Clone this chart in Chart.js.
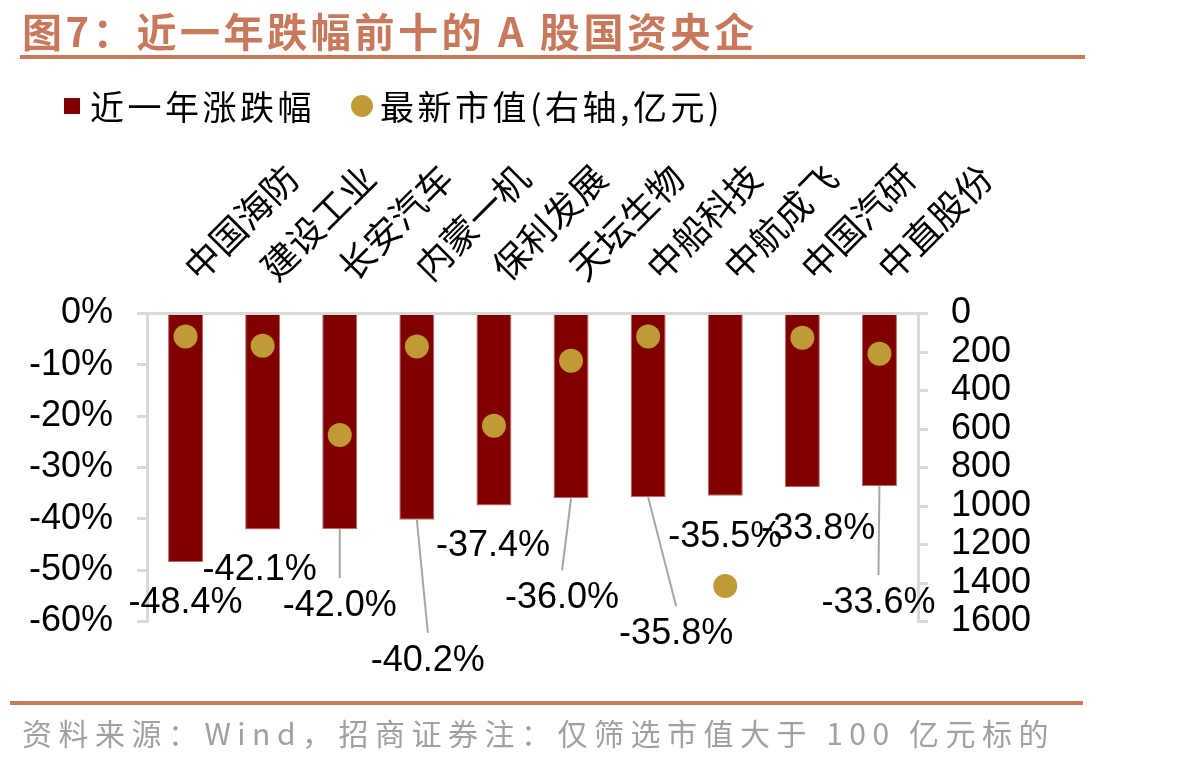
<!DOCTYPE html>
<html>
<head>
<meta charset="utf-8">
<script src="https://cdn.jsdelivr.net/npm/chart.js@4.4.1/dist/chart.umd.min.js"></script>
<style>
  html, body { margin: 0; padding: 0; background: #ffffff; }
  #wrap { position: relative; width: 1198px; height: 763px; overflow: hidden; font-family: "Noto Sans CJK SC", sans-serif; }
  #chart { position: absolute; left: 0; top: 0; }
  .title { position: absolute; left: 22px; top: 6px; font-size: 40px; line-height: 48px; font-weight: bold; color: #C8795B; letter-spacing: 3.6px; white-space: nowrap; }
  .rule { position: absolute; left: 20px; width: 1065px; height: 4px; background: #C8795B; }
  .legend { position: absolute; top: 84px; height: 44px; line-height: 44px; font-size: 34px; letter-spacing: 3.5px; color: #000; white-space: nowrap; }
  .sq { position: absolute; left: 64px; top: 98px; width: 16px; height: 16px; background: #800000; }
  .dot { position: absolute; left: 351px; top: 95px; width: 22px; height: 22px; border-radius: 50%; background: #C09A35; }
  .footer { position: absolute; left: 22px; top: 712px; font-size: 30px; line-height: 40px; color: #A0A0A0; letter-spacing: 6.5px; white-space: nowrap; }
</style>
</head>
<body>
<div id="wrap">
  <canvas id="chart" width="1198" height="763"></canvas>
  <div class="title">图7：近一年跌幅前十的 A 股国资央企</div>
  <div class="rule" style="top:55px"></div>
  <div class="sq"></div>
  <div class="legend" style="left:90px">近一年涨跌幅</div>
  <div class="dot"></div>
  <div class="legend" style="left:380px">最新市值(右轴,亿元)</div>
  <div class="rule" style="top:701px;left:10px;width:1073px"></div>
  <div class="footer">资料来源：Wind，招商证券注：仅筛选市值大于 100 亿元标的</div>
</div>
<script>
// ---- data ----
const companies = ["中国海防", "建设工业", "长安汽车", "内蒙一机", "保利发展", "天坛生物", "中船科技", "中航成飞", "中国汽研", "中直股份"];
const yearChange = [-48.4, -42.1, -42.0, -40.2, -37.4, -36.0, -35.8, -35.5, -33.8, -33.6]; // %
const marketCap = [120, 167, 631, 172, 583, 245, 120, 1416, 126, 209]; // 亿元
const leftTicks = { min: -60, max: 0, step: 10 };
const rightTicks = { min: 0, max: 1600, step: 200 };

// label placement (style only): offset from bar end, and whether a leader line is drawn
const labelOffsets = [[0, 41], [-3, 40], [0, 77], [11, 141], [-1, 41], [-9, 100], [28, 137], [0, 41], [16, 42], [-1, 117]];
const hasLeader = [false, false, true, true, false, true, true, false, false, true];

const labelPlugin = {
  id: 'barLabels',
  afterDatasetsDraw(chart) {
    const ctx = chart.ctx;
    const meta = chart.getDatasetMeta(0);
    ctx.save();
    meta.data.forEach((bar, i) => {
      const [dx, dy] = labelOffsets[i];
      const lx = bar.x + dx, ly = bar.y + dy;
      if (hasLeader[i]) {
        ctx.strokeStyle = '#A6A6A6';
        ctx.lineWidth = 2;
        ctx.beginPath();
        ctx.moveTo(bar.x, bar.y);
        ctx.lineTo(lx, ly - 28);
        ctx.stroke();
      }
    });
    ctx.font = '36px "Liberation Sans", Arial, sans-serif';
    ctx.fillStyle = '#000';
    ctx.textAlign = 'center';
    ctx.textBaseline = 'middle';
    meta.data.forEach((bar, i) => {
      const [dx, dy] = labelOffsets[i];
      ctx.fillText(yearChange[i].toFixed(1) + '%', bar.x + dx, bar.y + dy);
    });
    ctx.restore();
  }
};

const axisGrey = '#D9D9D9';
const numFont = { family: '"Liberation Sans", Arial, sans-serif', size: 36 };

new Chart(document.getElementById('chart'), {
  type: 'bar',
  data: {
    labels: companies,
    datasets: [
      {
        type: 'bar',
        label: '近一年涨跌幅',
        data: yearChange,
        backgroundColor: '#800000',
        borderColor: '#B86A6A',
        borderWidth: 1,
        barPercentage: 0.454,
        categoryPercentage: 1.0,
        yAxisID: 'y',
        order: 2
      },
      {
        type: 'line',
        label: '最新市值(右轴,亿元)',
        data: marketCap,
        showLine: false,
        pointRadius: 12,
        pointHoverRadius: 12,
        pointBackgroundColor: '#C09A35',
        pointBorderWidth: 0,
        yAxisID: 'y2',
        order: 1
      }
    ]
  },
  options: {
    responsive: false,
    animation: false,
    layout: { padding: { left: 29, right: 155, top: 151.5, bottom: 141.5 } },
    plugins: { legend: { display: false }, title: { display: false }, tooltip: { enabled: false } },
    scales: {
      x: {
        position: 'top',
        grid: { display: false, drawTicks: false },
        border: { display: true, color: axisGrey, width: 3 },
        ticks: {
          autoSkip: false, minRotation: 45, maxRotation: 45, padding: 25, labelOffset: 35,
          color: '#000', font: { family: '"Noto Sans CJK SC", sans-serif', size: 36 }
        },
        afterFit(s) { s.height = 162; }
      },
      y: {
        position: 'left',
        min: leftTicks.min, max: leftTicks.max,
        ticks: { stepSize: leftTicks.step, autoSkip: false, padding: 24, color: '#000', font: numFont, callback: v => v + '%' },
        grid: { drawOnChartArea: false, color: axisGrey, lineWidth: 3, tickLength: 10 },
        border: { color: axisGrey, width: 3 },
        afterFit(s) { s.width = 118; }
      },
      y2: {
        position: 'right',
        reverse: true,
        min: rightTicks.min, max: rightTicks.max,
        ticks: { stepSize: rightTicks.step, autoSkip: false, padding: 23, color: '#000', font: numFont, callback: v => String(v) },
        grid: { drawOnChartArea: false, color: axisGrey, lineWidth: 3, tickLength: 10 },
        border: { color: axisGrey, width: 3 },
        afterFit(s) { s.width = 125; }
      }
    }
  },
  plugins: [labelPlugin]
});
</script>
</body>
</html>
